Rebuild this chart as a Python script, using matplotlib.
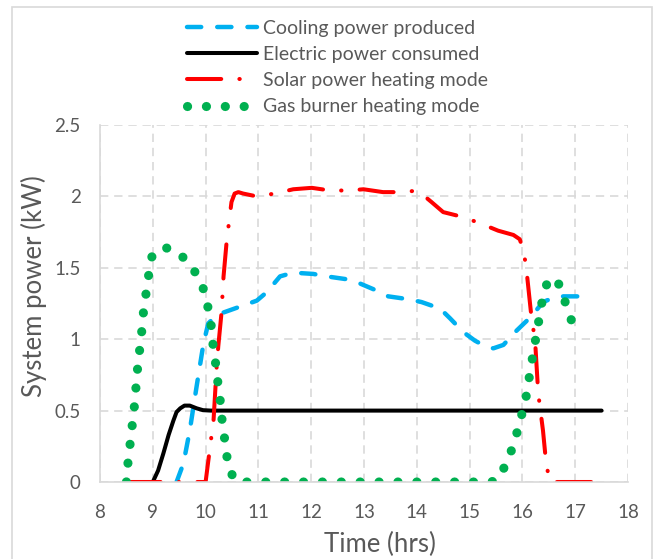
import matplotlib
matplotlib.use("Agg")
import matplotlib.pyplot as plt
from matplotlib.patches import Rectangle

plt.rcParams['font.family'] = ['Lato', 'DejaVu Sans']

# cooling power produced (kW)
cool_t = [9.45, 9.58, 9.70, 9.83, 9.96, 10.05, 10.21, 10.59, 10.97, 11.16, 11.41, 11.66,
          12.04, 12.29, 12.67, 12.86, 13.21, 13.46, 13.84, 14.09, 14.44, 14.63, 14.88,
          15.10, 15.30, 15.45, 15.64, 15.89, 16.17, 16.39, 16.65, 16.96, 17.25]
cool_kw = [0, 0.13, 0.36, 0.67, 0.97, 1.11, 1.17, 1.22, 1.27, 1.33, 1.44, 1.466,
           1.457, 1.44, 1.42, 1.40, 1.345, 1.30, 1.28, 1.26, 1.215, 1.146, 1.05,
           0.99, 0.95, 0.936, 0.96, 1.06, 1.16, 1.26, 1.30, 1.30, 1.30]

# electric power consumed (kW)
elec_t = [9.0, 9.1, 9.2, 9.3, 9.39, 9.45, 9.52, 9.6, 9.7, 9.83, 9.95, 10.1, 17.5]
elec_kw = [0, 0.08, 0.2, 0.33, 0.43, 0.49, 0.516, 0.535, 0.535, 0.516, 0.503, 0.5, 0.5]

# solar power, heating mode (kW)
solar_t = [8.5, 9.5, 10.0, 10.1, 10.15, 10.21, 10.24, 10.3, 10.34, 10.4, 10.44, 10.49,
           10.55, 10.62, 10.71, 10.97, 11.31, 11.66, 12.01, 12.29, 12.67, 12.99, 13.36,
           13.68, 14.01, 14.15, 14.28, 14.5, 14.88, 15.21, 15.54, 15.83, 15.95, 16.02,
           16.07, 16.11, 16.17, 16.24, 16.30, 16.39, 16.45, 16.52, 16.8, 17.5]
solar_kw = [0, 0, 0, 0.29, 0.43, 0.81, 0.95, 1.18, 1.44, 1.69, 1.81, 1.96,
            2.02, 2.03, 2.02, 2.0, 2.02, 2.05, 2.06, 2.045, 2.04, 2.05, 2.03,
            2.03, 2.04, 2.0, 1.96, 1.89, 1.855, 1.81, 1.76, 1.73, 1.70, 1.62,
            1.51, 1.37, 1.16, 0.99, 0.62, 0.36, 0.13, 0, 0, 0]

# gas burner, heating mode (kW)
gas_t = [8.5, 8.53, 8.57, 8.61, 8.65, 8.68, 8.71, 8.75, 8.79, 8.82, 8.87, 8.92, 8.98,
         9.08, 9.22, 9.38, 9.54, 9.77, 9.94, 10.03, 10.10, 10.13, 10.18, 10.22, 10.27,
         10.30, 10.35, 10.39, 10.46, 10.59, 11.0, 12.0, 13.0, 14.0, 15.0, 15.21, 15.4,
         15.53, 15.69, 15.82, 15.92, 16.01, 16.09, 16.14, 16.2, 16.26, 16.32, 16.38,
         16.48, 16.58, 16.69, 16.81, 16.93, 17.05, 17.19]
gas_kw = [0, 0.135, 0.266, 0.397, 0.527, 0.658, 0.789, 0.922, 1.053, 1.18, 1.316, 1.445, 1.575,
          1.625, 1.643, 1.625, 1.587, 1.49, 1.375, 1.25, 1.12, 0.99, 0.86, 0.73, 0.6,
          0.467, 0.334, 0.203, 0.075, 0, 0, 0, 0, 0, 0, 0, 0,
          0.014, 0.126, 0.247, 0.376, 0.504, 0.63, 0.76, 0.89, 1.02, 1.15, 1.28,
          1.41, 1.43, 1.385, 1.26, 1.13, 1.08, 1.057]

labels = ['Cooling power produced', 'Electric power consumed',
          'Solar power heating mode', 'Gas burner heating mode']

grey = '#595959'
grid = '#D9D9D9'

fig = plt.figure(figsize=(6.63, 5.59), dpi=100)
ax = fig.add_axes([100 / 663, 1 - 482 / 559, 528 / 663, 357 / 559])

ax.plot(cool_t, cool_kw, color='#00B0F0', lw=3.2, dashes=(3.2, 3.6),
        dash_capstyle='round', label=labels[0])
ax.plot(elec_t, elec_kw, color='black', lw=2.9, solid_capstyle='round', label=labels[1])
ax.plot(solar_t, solar_kw, color='#FF0000', lw=2.9, dashes=(8.5, 4.5, 0.1, 4.5),
        dash_capstyle='round', label=labels[2])
ax.plot(gas_t, gas_kw, color='#00B050', lw=6.6, dashes=(0.01, 2.05),
        dash_capstyle='round', label=labels[3])

ax.set_xlim(8, 18)
ax.set_ylim(0, 2.5)
ax.set_xticks(range(8, 19))
ax.set_yticks([0, 0.5, 1, 1.5, 2, 2.5])
ax.set_yticklabels(['0', '0.5', '1', '1.5', '2', '2.5'])
ax.grid(True, color=grid, lw=1.2, dashes=(5, 3.5))
ax.set_axisbelow(True)
for s in ['top', 'right']:
    ax.spines[s].set_visible(False)
for s in ['left', 'bottom']:
    ax.spines[s].set_color(grid)
    ax.spines[s].set_linewidth(1.2)
ax.tick_params(length=0, labelsize=13.5, labelcolor=grey)
ax.tick_params(axis='y', pad=14)
ax.tick_params(axis='x', pad=16)

ax.set_xlabel('Time (hrs)', fontsize=18.5, color=grey)
ax.xaxis.set_label_coords(0.531, -0.174)
ax.xaxis.label.set_va('center')
ax.set_ylabel('System power (kW)', fontsize=18.5, color=grey)
ax.yaxis.set_label_coords(-0.125, 0.55)
ax.yaxis.label.set_va('center')

leg = fig.legend(loc='upper left', bbox_to_anchor=(187 / 663, 1 - 20 / 559),
                 frameon=False, fontsize=14, handlelength=3.6, handletextpad=0.3,
                 labelspacing=0.47, borderpad=0, borderaxespad=0)
for t in leg.get_texts():
    t.set_color(grey)

fig.patches.append(Rectangle((12 / 663, -0.01), 640 / 663, 1.0 - 7 / 559 + 0.01,
                             transform=fig.transFigure, fill=False,
                             edgecolor=grid, lw=1.2))

fig.savefig('out.png', dpi=100)
